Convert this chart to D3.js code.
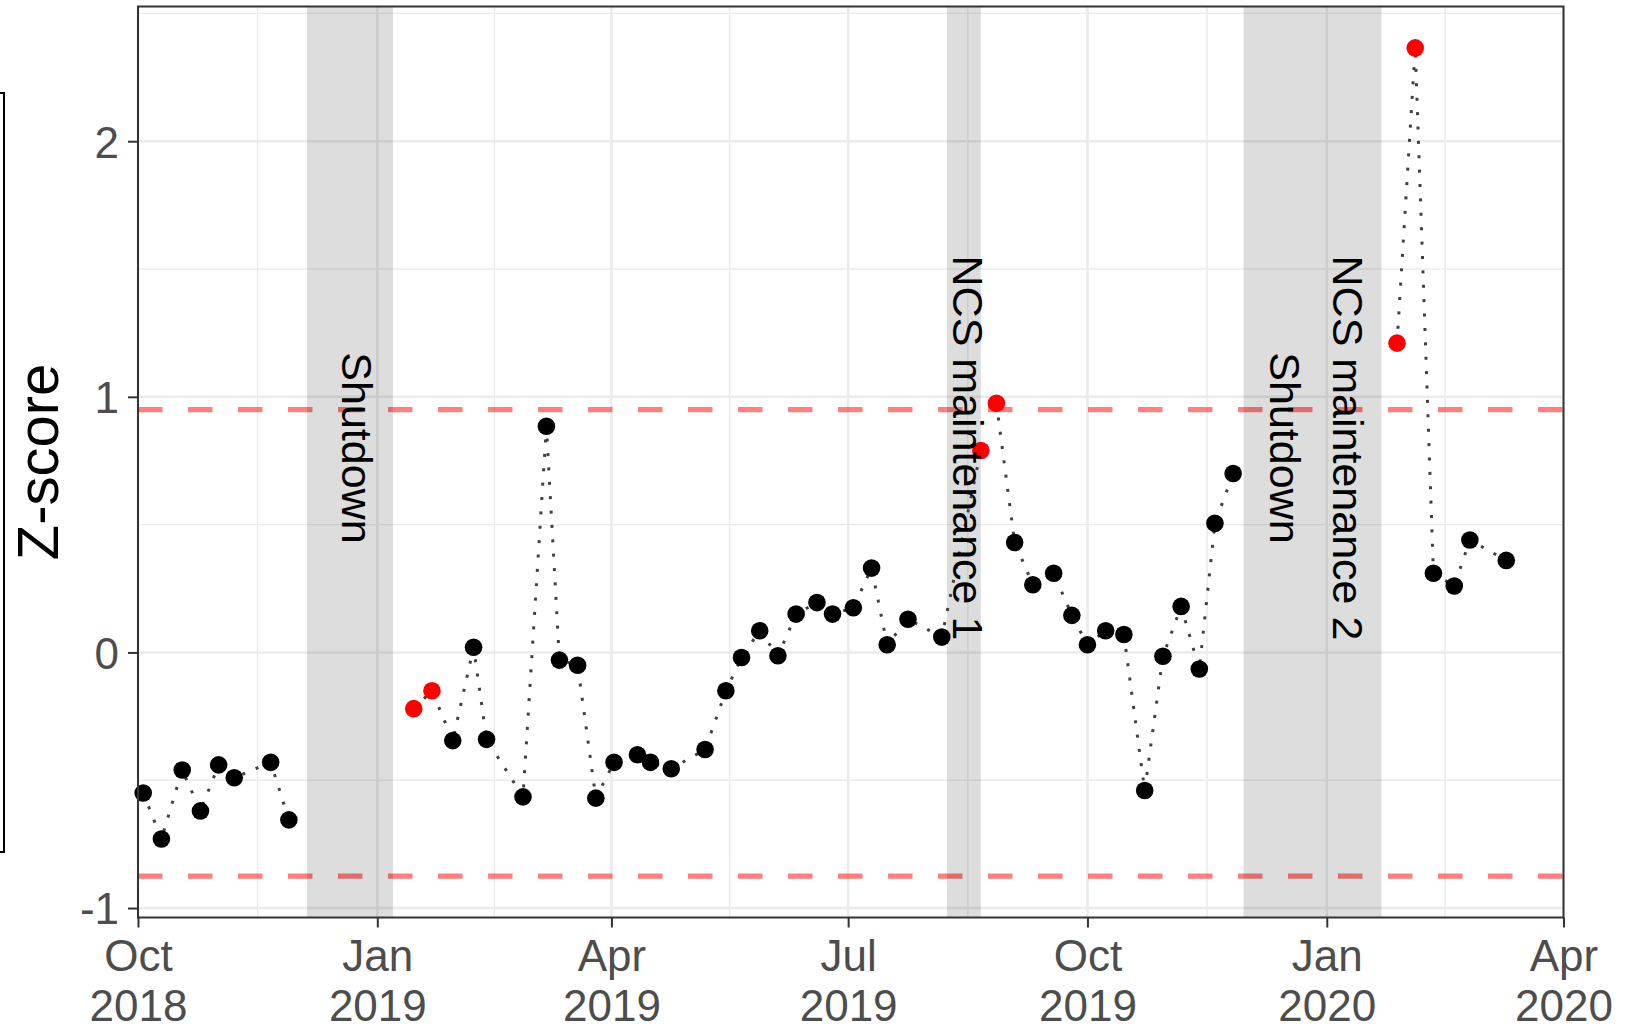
<!DOCTYPE html>
<html>
<head>
<meta charset="utf-8">
<script src="https://cdn.jsdelivr.net/npm/d3@7"></script>
<style>
  body { margin: 0; background: #fff; }
  svg { display: block; font-family: 'Liberation Sans', Arial, sans-serif; }
</style>
</head>
<body>
<script>
// weekly z-scores
const dates = [
    '2018-10-03', '2018-10-10', '2018-10-18', '2018-10-25', '2018-11-01', '2018-11-07', '2018-11-21', '2018-11-28',
    '2019-01-15', '2019-01-22', '2019-01-30', '2019-02-07', '2019-02-12', '2019-02-26',
    '2019-03-07', '2019-03-12', '2019-03-19', '2019-03-26', '2019-04-02', '2019-04-11', '2019-04-16', '2019-04-24',
    '2019-05-07', '2019-05-15', '2019-05-21', '2019-05-28', '2019-06-04', '2019-06-11', '2019-06-19', '2019-06-25',
    '2019-07-03', '2019-07-10', '2019-07-16', '2019-07-24', '2019-08-06', '2019-08-21', '2019-08-27',
    '2019-09-03', '2019-09-10', '2019-09-18', '2019-09-25', '2019-10-01', '2019-10-08', '2019-10-15',
    '2019-10-23', '2019-10-30', '2019-11-06', '2019-11-13', '2019-11-19', '2019-11-26',
    '2020-01-28', '2020-02-04', '2020-02-11', '2020-02-19', '2020-02-25', '2020-03-10'
];
const zScores = [
    -0.55, -0.73, -0.46, -0.62, -0.44, -0.49, -0.43, -0.655,
    -0.22, -0.15, -0.345, 0.02, -0.34, -0.565,
    0.885, -0.03, -0.05, -0.57, -0.43, -0.40, -0.43, -0.455,
    -0.38, -0.15, -0.02, 0.085, -0.013, 0.15, 0.195, 0.15,
    0.175, 0.33, 0.03, 0.13, 0.06, 0.79, 0.975,
    0.43, 0.265, 0.31, 0.145, 0.03, 0.085, 0.07,
    -0.54, -0.015, 0.18, -0.065, 0.505, 0.70,
    1.21, 2.365, 0.31, 0.26, 0.44, 0.36
];
// 1 = drawn red
const flagged = [
    0, 0, 0, 0, 0, 0, 0, 0,
    1, 1, 0, 0, 0, 0,
    0, 0, 0, 0, 0, 0, 0, 0,
    0, 0, 0, 0, 0, 0, 0, 0,
    0, 0, 0, 0, 0, 1, 1,
    0, 0, 0, 0, 0, 0, 0,
    0, 0, 0, 0, 0, 0,
    1, 1, 0, 0, 0, 0
];

const periodLabels = [ 'Shutdown', 'NCS maintenance 1', 'Shutdown', 'NCS maintenance 2' ];
const periodStarts = [ '2018-12-05', '2019-08-08', '2019-11-30', '2020-01-01' ];
const periodEnds = [ '2019-01-07', '2019-08-21', '2020-01-01', '2020-01-22' ];
const labelDates = [ '2018-12-24', '2019-08-16', '2019-12-16', '2020-01-09' ];
const labelZ = 0.8;

const thresholds = [ 0.95, -0.875 ];

const xLimits = [ '2018-10-01', '2020-04-01' ];
const xTicks = [ '2018-10-01', '2019-01-01', '2019-04-01', '2019-07-01', '2019-10-01', '2020-01-01', '2020-04-01' ];
const yTicks = [ -1, 0, 1, 2 ];

const W = 1629, H = 1024;
const margin = { top: 6.5, right: 65.5, bottom: 106.5, left: 138 };
const iw = W - margin.left - margin.right,
      ih = H - margin.top - margin.bottom;

const parse = d3.utcParse( '%Y-%m-%d' );

const pts = dates.map( ( d, i ) => ( { date: parse( d ), z: zScores[ i ], red: flagged[ i ] == 1 } ) );
const periods = periodLabels.map( ( l, i ) => ( {
    label: l, start: parse( periodStarts[ i ] ), end: parse( periodEnds[ i ] ), at: parse( labelDates[ i ] )
} ) );
// a new line segment starts after every event period
pts.forEach( p => p.seg = periods.filter( q => q.end < p.date ).length );

let lo = d3.min( [ ...zScores, ...thresholds ] ),
    hi = d3.max( [ ...zScores, ...thresholds ] ),
    pad = ( hi - lo ) * 0.05;

const x = d3.scaleUtc().domain( xLimits.map( parse ) ).range( [ 0, iw ] );
const y = d3.scaleLinear().domain( [ lo - pad, hi + pad ] ).range( [ ih, 0 ] );

const svg = d3.select( 'body' ).append( 'svg' ).attr( 'width', W ).attr( 'height', H );
const g = svg.append( 'g' ).attr( 'transform', 'translate(' + margin.left + ',' + margin.top + ')' );

// grid
const xMajor = xTicks.map( parse );
const xMinor = d3.pairs( xMajor ).map( ( [ a, b ] ) => new Date( ( +a + +b ) / 2 ) );
const yMinor = d3.range( -1.5, 3, 1 ).filter( v => v >= y.domain()[ 0 ] && v <= y.domain()[ 1 ] );

const grid = g.append( 'g' ).attr( 'stroke', '#EBEBEB' );
grid.selectAll( '.vmin' ).data( xMinor ).enter().append( 'line' )
    .attr( 'x1', d => x( d ) ).attr( 'x2', d => x( d ) ).attr( 'y1', 0 ).attr( 'y2', ih )
    .attr( 'stroke-width', 1.4 );
grid.selectAll( '.hmin' ).data( yMinor ).enter().append( 'line' )
    .attr( 'x1', 0 ).attr( 'x2', iw ).attr( 'y1', d => y( d ) ).attr( 'y2', d => y( d ) )
    .attr( 'stroke-width', 1.4 );
grid.selectAll( '.vmaj' ).data( xMajor ).enter().append( 'line' )
    .attr( 'x1', d => x( d ) ).attr( 'x2', d => x( d ) ).attr( 'y1', 0 ).attr( 'y2', ih )
    .attr( 'stroke-width', 2.6 );
grid.selectAll( '.hmaj' ).data( yTicks ).enter().append( 'line' )
    .attr( 'x1', 0 ).attr( 'x2', iw ).attr( 'y1', d => y( d ) ).attr( 'y2', d => y( d ) )
    .attr( 'stroke-width', 2.6 );

// threshold lines
g.selectAll( '.thr' ).data( thresholds ).enter().append( 'line' )
    .attr( 'x1', 0 ).attr( 'x2', iw ).attr( 'y1', d => y( d ) ).attr( 'y2', d => y( d ) )
    .attr( 'stroke', 'red' ).attr( 'stroke-opacity', 0.5 )
    .attr( 'stroke-width', 5.2 ).attr( 'stroke-dasharray', '24.5 25.5' );

// event periods
g.selectAll( '.period' ).data( periods ).enter().append( 'rect' )
    .attr( 'x', d => x( d.start ) ).attr( 'width', d => x( d.end ) - x( d.start ) )
    .attr( 'y', 0 ).attr( 'height', ih )
    .attr( 'fill', '#000' ).attr( 'fill-opacity', 0.135 );

// dotted connecting lines
const line = d3.line().x( d => x( d.date ) ).y( d => y( d.z ) );
g.selectAll( '.seg' ).data( d3.groups( pts, d => d.seg ) ).enter().append( 'path' )
    .attr( 'd', d => line( d[ 1 ] ) )
    .attr( 'fill', 'none' ).attr( 'stroke', '#404040' )
    .attr( 'stroke-width', 3 ).attr( 'stroke-dasharray', '3 11.4' );

g.selectAll( '.pt' ).data( pts ).enter().append( 'circle' )
    .attr( 'cx', d => x( d.date ) ).attr( 'cy', d => y( d.z ) )
    .attr( 'r', 8.8 )
    .attr( 'fill', d => d.red ? '#FF0000' : '#000' );

// period labels
g.selectAll( '.plabel' ).data( periods ).enter().append( 'text' )
    .attr( 'transform', d => 'translate(' + x( d.at ) + ',' + y( labelZ ) + ') rotate(90)' )
    .attr( 'text-anchor', 'middle' ).attr( 'dominant-baseline', 'central' )
    .attr( 'font-size', 43 ).attr( 'fill', '#000' )
    .text( d => d.label );

// panel border
g.append( 'rect' ).attr( 'width', iw ).attr( 'height', ih )
    .attr( 'fill', 'none' ).attr( 'stroke', '#333' ).attr( 'stroke-width', 2 );

// axes
const fmtMonth = d3.utcFormat( '%b' ), fmtYear = d3.utcFormat( '%Y' );

const xAxis = g.append( 'g' ).attr( 'transform', 'translate(0,' + ih + ')' )
    .call( d3.axisBottom( x ).tickValues( xMajor ).tickSize( 10 ) )
    .attr( 'font-size', 44 ).attr( 'font-family', null ).attr( 'color', '#333' );
xAxis.select( '.domain' ).remove();
xAxis.selectAll( '.tick line' ).attr( 'stroke-width', 2 );
xAxis.selectAll( '.tick text' ).attr( 'fill', '#4D4D4D' ).each( function( d ) {
    let t = d3.select( this ).text( null ).attr( 'y', null ).attr( 'dy', null );
    t.append( 'tspan' ).attr( 'x', 0 ).attr( 'y', 53.5 ).text( fmtMonth( d ) );
    t.append( 'tspan' ).attr( 'x', 0 ).attr( 'y', 103 ).text( fmtYear( d ) );
} );

const yAxis = g.append( 'g' )
    .call( d3.axisLeft( y ).tickValues( yTicks ).tickSize( 10 ).tickPadding( 9 ).tickFormat( d => String( d ) ) )
    .attr( 'font-size', 44 ).attr( 'font-family', null ).attr( 'color', '#333' );
yAxis.select( '.domain' ).remove();
yAxis.selectAll( '.tick line' ).attr( 'stroke-width', 2 );
yAxis.selectAll( '.tick text' ).attr( 'fill', '#4D4D4D' ).attr( 'dy', '0.36em' );

svg.append( 'text' )
    .attr( 'transform', 'translate(37,' + ( margin.top + ih / 2 ) + ') rotate(-90)' )
    .attr( 'text-anchor', 'middle' ).attr( 'dominant-baseline', 'central' )
    .attr( 'font-size', 58 ).attr( 'fill', '#000' )
    .text( 'Z-score' );

// edge of the neighbouring box, cut off at the left border
svg.append( 'rect' ).attr( 'x', -10 ).attr( 'y', 93 ).attr( 'width', 14 ).attr( 'height', 759 )
    .attr( 'fill', 'none' ).attr( 'stroke', '#000' ).attr( 'stroke-width', 2 );
</script>
</body>
</html>
